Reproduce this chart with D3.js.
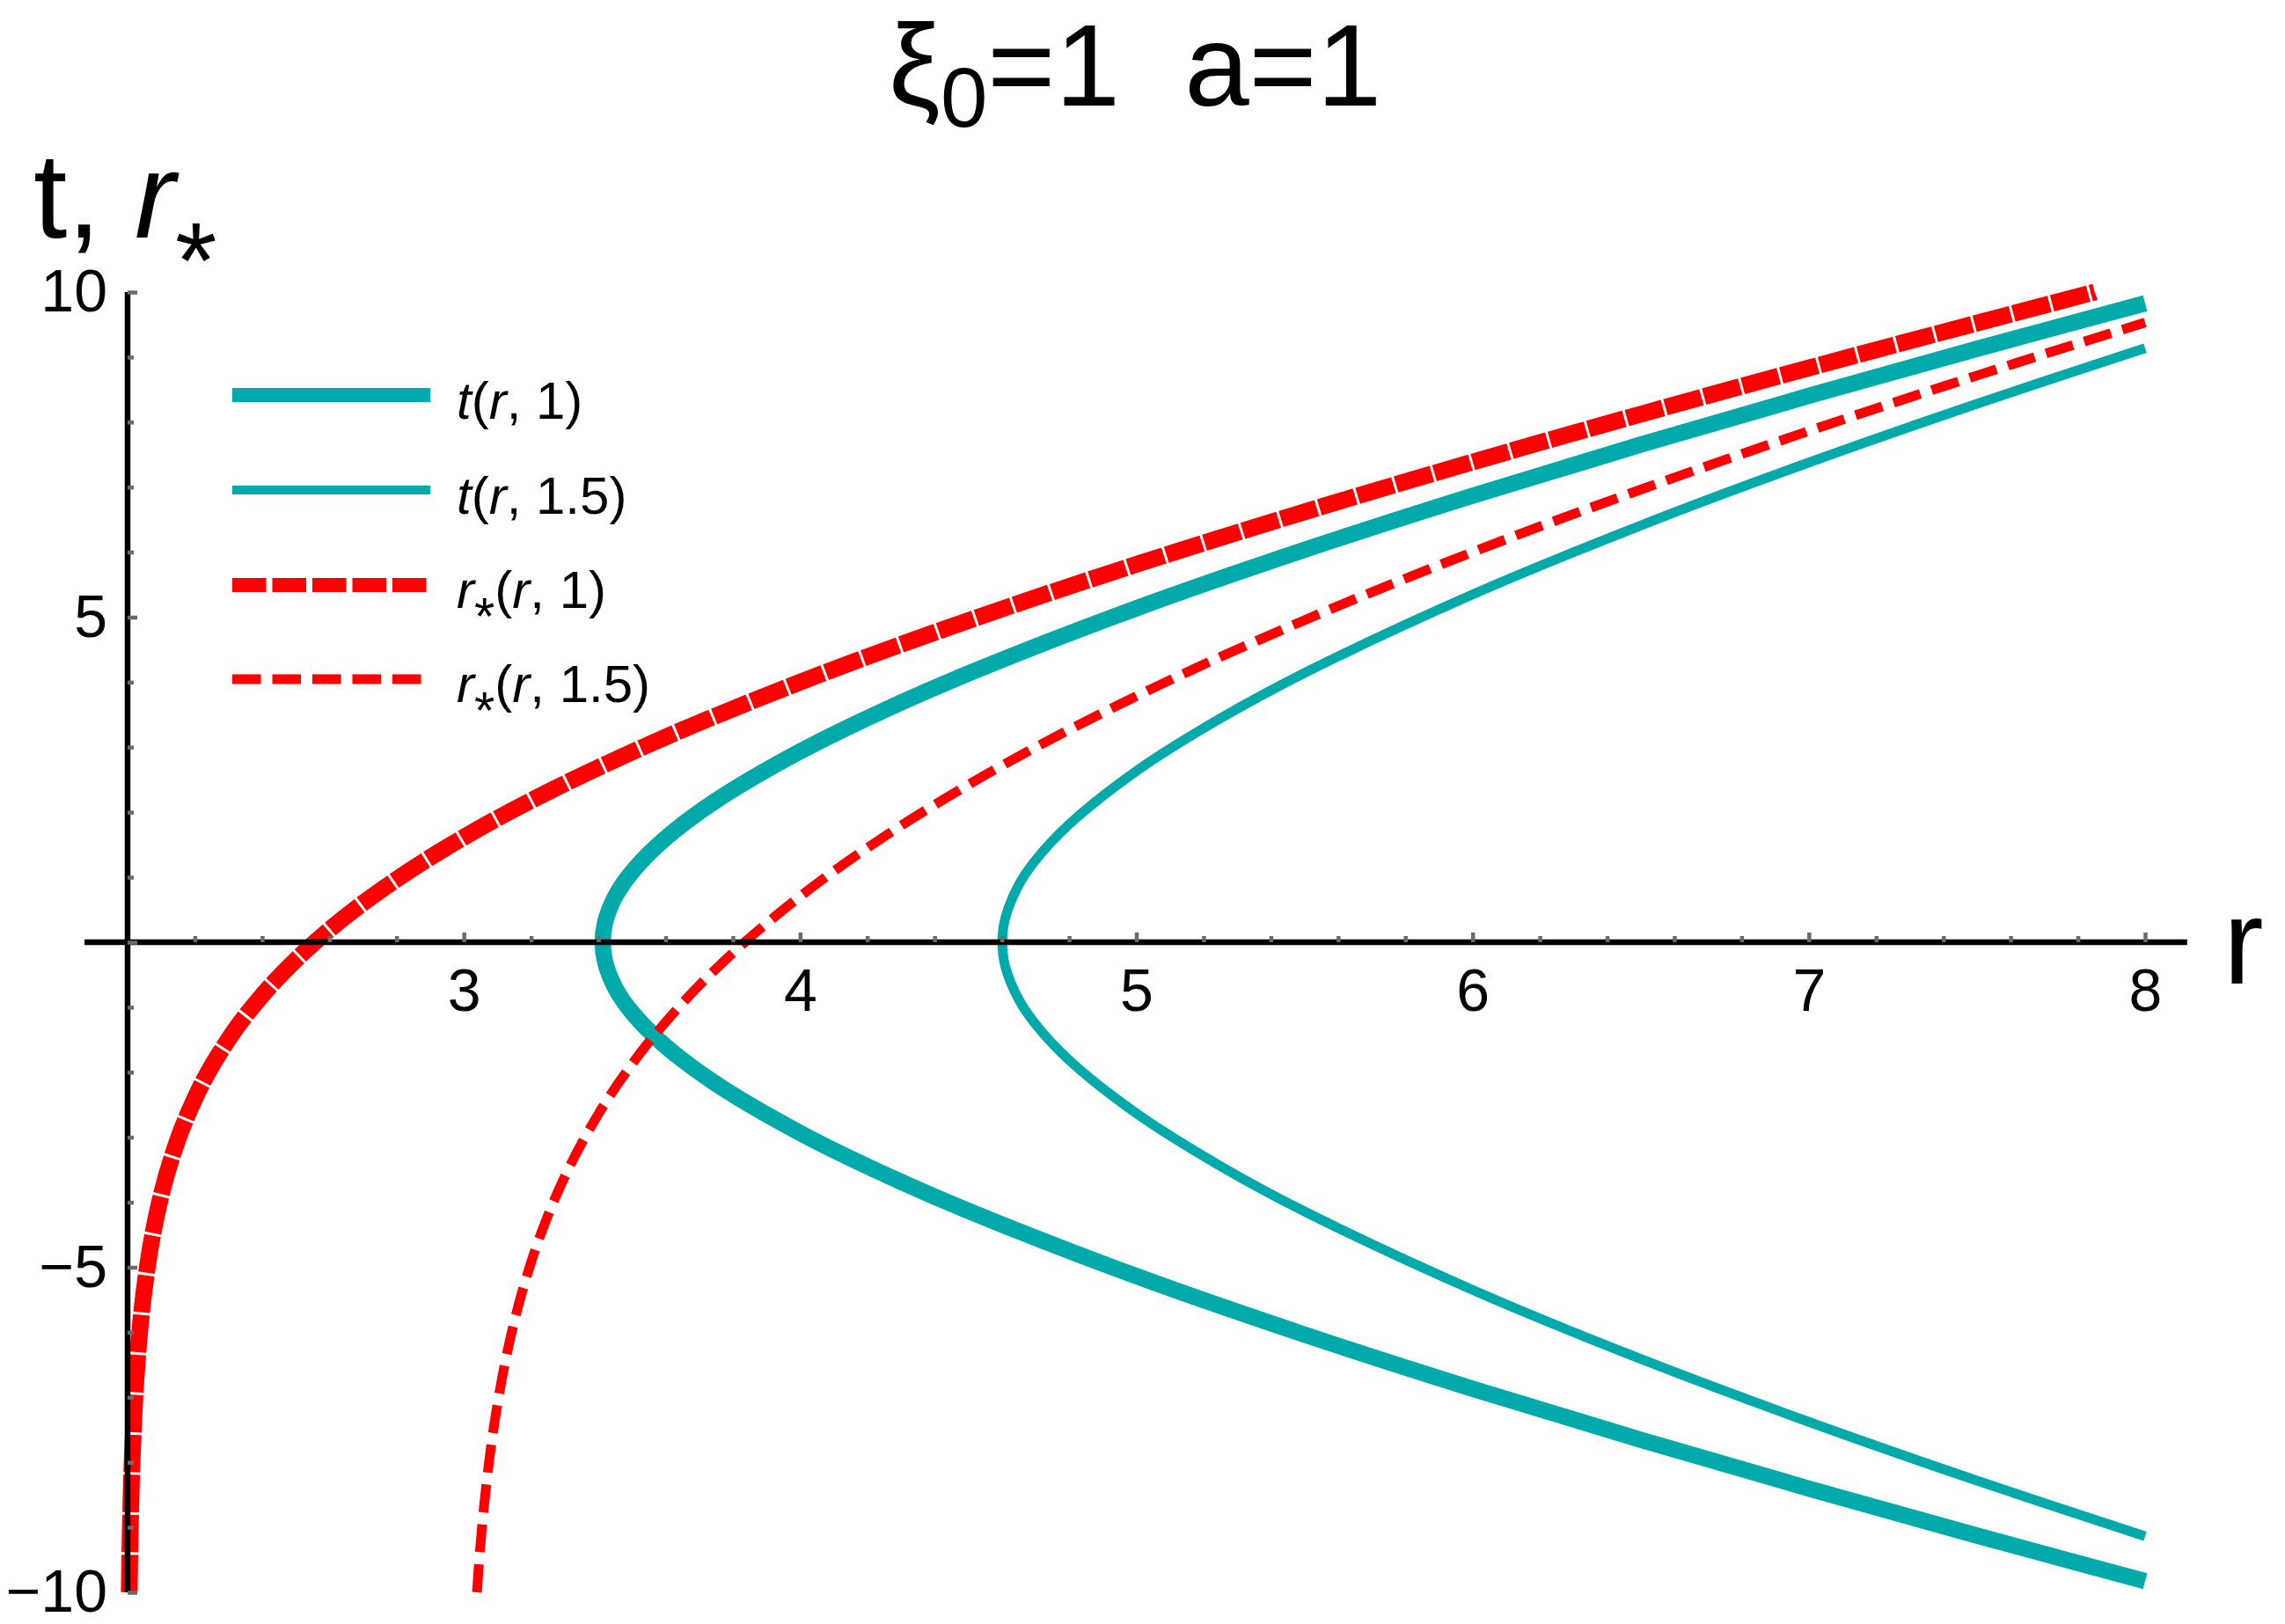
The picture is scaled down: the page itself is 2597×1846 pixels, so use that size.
<!DOCTYPE html>
<html><head><meta charset="utf-8">
<script src="https://cdn.jsdelivr.net/npm/d3@7"></script>
<style>
body{margin:0;background:#fff}
svg{display:block}
text{font-family:"Liberation Sans",Arial,sans-serif;fill:#000}
</style>
</head><body>
<script>
// ---------- data ----------
// t(r, 1)  (thick teal), traced from the lower end through the vertex to the upper end
const tA_r = [8.0, 7.5, 7.0, 6.5, 6.0, 5.5, 5.0, 4.5, 4.25, 4.0, 3.75, 3.6, 3.5, 3.45, 3.42, 3.413, 3.42, 3.45, 3.5, 3.6, 3.75, 4.0, 4.25, 4.5, 5.0, 5.5, 6.0, 6.5, 7.0, 7.5, 8.0];
const tA_v = [-9.828, -9.127, -8.404, -7.654, -6.868, -6.035, -5.136, -4.132, -3.568, -2.934, -2.178, -1.599, -1.079, -0.700, -0.302, 0.0, 0.302, 0.700, 1.079, 1.599, 2.178, 2.934, 3.568, 4.132, 5.136, 6.035, 6.868, 7.654, 8.404, 9.127, 9.828];
// t(r, 1.5)  (thin teal)
const tB_r = [8.0, 7.5, 7.0, 6.5, 6.0, 5.5, 5.25, 5.0, 4.8, 4.7, 4.65, 4.61, 4.6014, 4.61, 4.65, 4.7, 4.8, 5.0, 5.25, 5.5, 6.0, 6.5, 7.0, 7.5, 8.0];
const tB_v = [-9.137, -8.282, -7.378, -6.410, -5.349, -4.141, -3.443, -2.632, -1.813, -1.260, -0.878, -0.366, 0.0, 0.366, 0.878, 1.260, 1.813, 2.632, 3.443, 4.141, 5.349, 6.410, 7.378, 8.282, 9.137];
// r*(r, 1)  (thick red dashed)
const sA_r = [2.0049, 2.0075, 2.01, 2.02, 2.03, 2.04, 2.06, 2.08, 2.1, 2.15, 2.2, 2.3, 2.4, 2.5, 2.6, 2.8, 3.0, 3.25, 3.5, 4.0, 4.5, 5.0, 5.5, 6.0, 6.5, 7.0, 7.5, 7.85];
const sA_v = [-10.0, -9.165, -8.587, -7.190, -6.369, -5.784, -4.953, -4.358, -3.891, -3.031, -2.405, -1.494, -0.819, -0.273, 0.192, 0.967, 1.614, 2.310, 2.925, 4.000, 4.946, 5.811, 6.619, 7.386, 8.122, 8.833, 9.523, 10.0];
// r*(r, 1.5)  (thin red dashed)
const sB_r = [3.0389, 3.045, 3.05, 3.06, 3.075, 3.1, 3.125, 3.15, 3.2, 3.25, 3.3, 3.4, 3.5, 3.65, 3.8, 4.0, 4.25, 4.5, 5.0, 5.5, 6.0, 6.5, 7.0, 7.5, 8.0];
const sB_v = [-10.0, -9.554, -9.233, -8.676, -7.992, -7.104, -6.409, -5.837, -4.924, -4.205, -3.608, -2.645, -1.875, -0.938, -0.165, 0.704, 1.624, 2.421, 3.784, 4.953, 6.000, 6.962, 7.863, 8.716, 9.532];

const seriesNames = ["t(r, 1)", "t(r, 1.5)", "r*(r, 1)", "r*(r, 1.5)"];
const xMajorTicks = [3, 4, 5, 6, 7, 8];
const xTickLabels = ["3", "4", "5", "6", "7", "8"];
const yMajorTicks = [-10, -5, 0, 5, 10];
const yTickLabels = ["\u221210", "\u22125", "", "5", "10"];
const titleParts = ["\u03BE", "0", "=1  a=1"];
const xLabel = "r";

// ---------- layout ----------
const W = 2597, H = 1846;
const TEAL = "#00AAAA", RED = "#FF0000";
const svg = d3.select("body").append("svg").attr("width", W).attr("height", H);
svg.append("rect").attr("width", W).attr("height", H).attr("fill", "#fff");

const x = d3.scaleLinear().domain([2, 8]).range([145, 2438]);
const y = d3.scaleLinear().domain([-10, 10]).range([1810, 332]);

const zip = (a, b) => a.map((v, i) => [v, b[i]]);
const lineLoop = d3.line().x(d => x(d[0])).y(d => y(d[1])).curve(d3.curveCatmullRom.alpha(0.5));
const lineMono = d3.line().x(d => x(d[0])).y(d => y(d[1])).curve(d3.curveMonotoneX);

const plot = svg.append("g");
const curves = [
  {d: zip(tA_r, tA_v), gen: lineLoop, color: TEAL, w: 18.5, dash: null},
  {d: zip(tB_r, tB_v), gen: lineLoop, color: TEAL, w: 11, dash: null},
  {d: zip(sA_r, sA_v), gen: lineMono, color: RED, w: 19, dash: "42.5,3"},
  {d: zip(sB_r, sB_v), gen: lineMono, color: RED, w: 11, dash: "32,13.5"}
];
curves.forEach(c => {
  plot.append("path").attr("d", c.gen(c.d)).attr("fill", "none")
    .attr("stroke", c.color).attr("stroke-width", c.w)
    .attr("stroke-linejoin", "round").attr("stroke-linecap", "butt")
    .attr("stroke-dasharray", c.dash);
});

// ---------- axes ----------
const TICK = "#6b6b6b";
const axisG = svg.append("g");
axisG.append("line").attr("x1", x(1.872)).attr("x2", x(8.125)).attr("y1", y(0)).attr("y2", y(0))
  .attr("stroke", "#000").attr("stroke-width", 6.5);
axisG.append("line").attr("x1", x(2)).attr("x2", x(2)).attr("y1", y(-10)).attr("y2", y(10))
  .attr("stroke", "#000").attr("stroke-width", 6.5);

const xMinor = d3.range(11, 40).map(i => i / 5).filter(v => Math.abs(v - Math.round(v)) > 1e-6);
const yMinor = d3.range(-9, 10).filter(v => v % 5 !== 0);

function styleAxis(g, fs) {
  g.select(".domain").remove();
  g.selectAll(".tick line").attr("stroke", TICK).attr("stroke-width", 4.5);
  g.selectAll(".tick text").attr("font-size", fs).attr("fill", "#000")
    .attr("font-family", "'Liberation Sans', Arial, sans-serif");
}
const gxMinor = axisG.append("g").attr("transform", `translate(0,${y(0)})`)
  .call(d3.axisBottom(x).tickValues(xMinor).tickSize(-7).tickFormat(""));
styleAxis(gxMinor, 0);
const gxMajor = axisG.append("g").attr("transform", `translate(0,${y(0)})`)
  .call(d3.axisBottom(x).tickValues(xMajorTicks).tickSize(-11).tickPadding(30)
    .tickFormat((d, i) => xTickLabels[i]));
styleAxis(gxMajor, 68);

const gyMinor = axisG.append("g").attr("transform", `translate(${x(2)},0)`)
  .call(d3.axisLeft(y).tickValues(yMinor).tickSize(-7).tickFormat(""));
styleAxis(gyMinor, 0);
const gyMajor = axisG.append("g").attr("transform", `translate(${x(2)},0)`)
  .call(d3.axisLeft(y).tickValues(yMajorTicks).tickSize(-11).tickPadding(23)
    .tickFormat((d, i) => yTickLabels[i]));
styleAxis(gyMajor, 68);

// ---------- labels ----------
const title = svg.append("text").attr("x", 1290).attr("y", 120).attr("text-anchor", "middle")
  .attr("font-size", 132).style("white-space", "pre");
title.append("tspan").text(titleParts[0]);
title.append("tspan").attr("font-size", 96).attr("dy", 24).text(titleParts[1]);
title.append("tspan").attr("dy", -24).text(titleParts[2]);

const yl = svg.append("text").attr("x", 38).attr("y", 270).attr("font-size", 138).style("white-space", "pre");
yl.append("tspan").text("t, ");
yl.append("tspan").attr("font-style", "italic").text("r");
yl.append("tspan").attr("font-size", 122).attr("dy", 68).text("*");

svg.append("text").attr("x", 2527).attr("y", 1118).attr("font-size", 137).text(xLabel);

// ---------- legend ----------
const legY = [449, 557, 665, 772];
const legBase = [476, 584, 691, 798];
const legStyles = [
  {color: TEAL, w: 16, dash: null},
  {color: TEAL, w: 10, dash: null},
  {color: RED, w: 16, dash: "38.5,7"},
  {color: RED, w: 11, dash: "32.5,13"}
];
const LFS = 60;
seriesNames.forEach((name, i) => {
  const st = legStyles[i];
  svg.append("line").attr("x1", 264).attr("x2", 489).attr("y1", legY[i]).attr("y2", legY[i])
    .attr("stroke", st.color).attr("stroke-width", st.w).attr("stroke-dasharray", st.dash);
  const t = svg.append("text").attr("x", 519).attr("y", legBase[i]).attr("font-size", LFS).style("white-space", "pre");
  const m = name.match(/^(t|r\*)\((r), (.*)\)$/);
  if (m[1] === "t") {
    t.append("tspan").attr("font-style", "italic").text("t");
  } else {
    t.append("tspan").attr("font-style", "italic").text("r");
    t.append("tspan").attr("font-size", LFS * 1.0).attr("dy", LFS * 0.5).text("*");
  }
  t.append("tspan").attr("dy", m[1] === "t" ? 0 : -LFS * 0.5).text("(");
  t.append("tspan").attr("font-style", "italic").text("r");
  t.append("tspan").text(", " + m[3] + ")");
});
</script>
</body></html>
